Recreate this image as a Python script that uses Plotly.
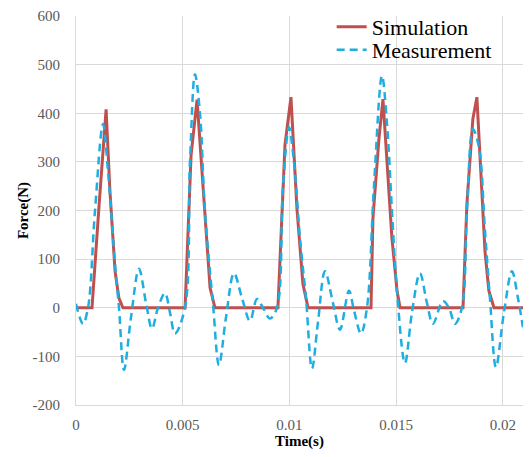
import plotly.graph_objects as go

# Simulation (s, N)
sim_t = [0, 0.00075, 0.00108, 0.00141, 0.00159, 0.00183, 0.00201, 0.00220,
         0.00511, 0.00539, 0.00567, 0.00604, 0.00628, 0.00651,
         0.00946, 0.00979, 0.01007, 0.01035, 0.01063, 0.01087,
         0.01382, 0.01391, 0.01419, 0.01438, 0.01480, 0.01504, 0.01518,
         0.01813, 0.01831, 0.01859, 0.01878, 0.01916, 0.01934, 0.01958, 0.02094]
sim_f = [0, 0, 210, 408, 240, 75, 20, 0,
         0, 314, 428, 198, 41, 0,
         0, 335, 433, 204, 49, 0,
         0, 184, 347, 429, 143, 35, 0,
         0, 212, 388, 433, 116, 35, 0, 0]

# Measurement (pixel-read positions converted to time)
meas_px = [76, 83, 88, 95, 103, 108, 115, 119, 124, 131, 139, 146, 152, 158, 165, 170, 175,
           185, 190, 195, 200, 205, 213, 219, 226, 234, 242, 250, 257, 263, 270,
           277, 283, 289, 294, 300, 306, 312, 318, 325, 333, 340, 349, 354, 361,
           367, 374, 382, 387, 392, 397, 405, 412, 420, 427, 433, 443, 449, 455,
           462, 467, 473, 479, 485, 490, 496, 504, 512, 518, 523]
meas_f = [8, -33, 0, 200, 378, 280, 90, 0, -128, -20, 80, 10, -43, 0, 30, -10, -53,
          0, 300, 480, 400, 198, 8, -118, -20, 71, 20, -27, 18, 0, -22,
          0, 250, 371, 300, 143, 20, -125, -30, 75, 10, -45, 35, -5, -53,
          0, 250, 477, 380, 200, 35, -114, -10, 71, 10, -33, 14, 0, -33,
          0, 200, 367, 330, 160, 20, -122, -10, 75, 20, -40]
meas_t = [round((p - 76) / 21350, 6) for p in meas_px]

x_ticks = [0, 0.005, 0.01, 0.015, 0.02]
x_ticktext = ["0", "0.005", "0.01", "0.015", "0.02"]
y_ticks = [-200, -100, 0, 100, 200, 300, 400, 500, 600]
y_ticktext = ["-200", "-100", "0", "100", "200", "300", "400", "500", "600"]

SERIF = "Liberation Serif, Times New Roman, serif"

fig = go.Figure()
fig.add_trace(go.Scatter(x=sim_t, y=sim_f, mode="lines", name="Simulation",
                         line=dict(color="#C0504D", width=3), legend="legend",
                         showlegend=True))
fig.add_trace(go.Scatter(x=meas_t, y=meas_f, mode="lines", name="Measurement",
                         line=dict(color="#1FAEE0", width=2.5, dash="8px,5px",
                                   shape="spline", smoothing=1), legend="legend2",
                         showlegend=True))

grid = "#D9D9D9"
tickfont = dict(family=SERIF, size=15, color="#595959")
legfont = dict(family=SERIF, size=22, color="black")
fig.update_layout(
    width=529, height=457,
    showlegend=True,
    margin=dict(l=76, r=6, t=12, b=52),
    paper_bgcolor="white", plot_bgcolor="white",
    font=dict(family=SERIF),
    legend=dict(x=0.572, y=0.972, xanchor="left", yanchor="middle",
                bgcolor="rgba(0,0,0,0)", font=legfont, itemwidth=30, visible=True),
    legend2=dict(x=0.572, y=0.913, xanchor="left", yanchor="middle",
                 bgcolor="rgba(0,0,0,0)", font=legfont, itemwidth=30, visible=True),
    xaxis=dict(range=[0, 0.02094], tickvals=x_ticks, ticktext=x_ticktext,
               showgrid=True, gridcolor=grid, gridwidth=1, zeroline=False,
               showline=True, linecolor=grid, linewidth=1, ticks="",
               tickfont=tickfont, automargin=False, ticklabelstandoff=6,
               ticklabeloverflow="allow",
               title=dict(text="<b>Time(s)</b>", font=dict(family=SERIF, size=15, color="black"), standoff=0)),
    yaxis=dict(range=[-200, 600], tickvals=y_ticks, ticktext=y_ticktext,
               showgrid=True, gridcolor=grid, gridwidth=1,
               zeroline=False, showline=True, linecolor=grid, linewidth=1, ticks="",
               tickfont=tickfont, ticklabelstandoff=12, automargin=False,
               ticklabeloverflow="allow",
               title=dict(text="<b>Force(N)</b>", font=dict(family=SERIF, size=15, color="black"), standoff=0)),
)
fig.write_html("out.html", config={"displayModeBar": False},
               post_script="document.body.style.margin='0';")
